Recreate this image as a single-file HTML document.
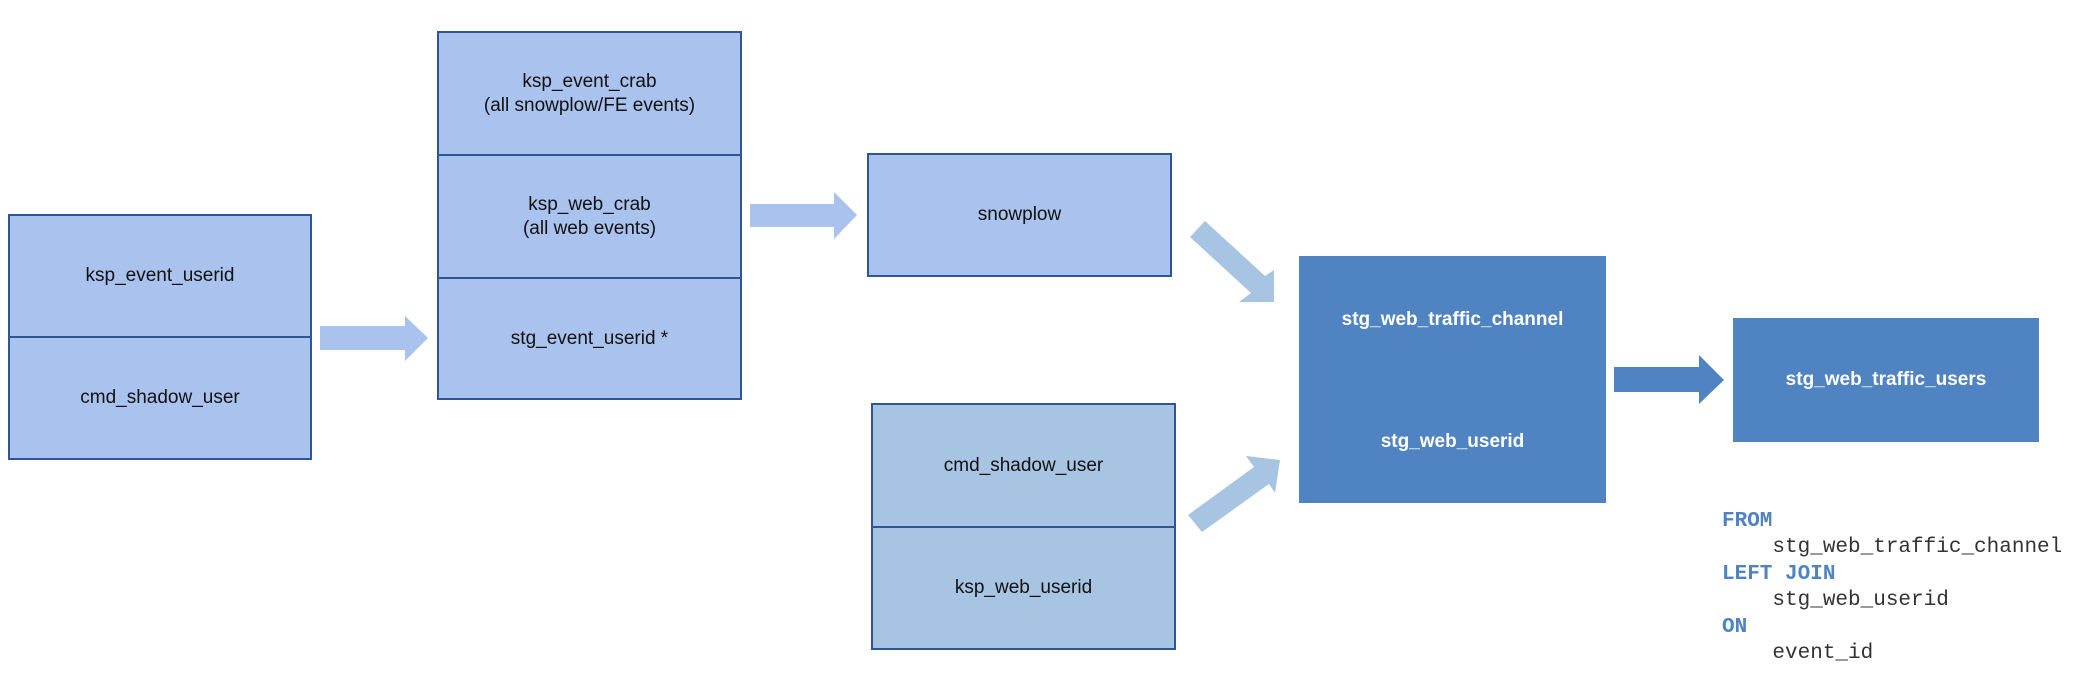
<!DOCTYPE html>
<html><head><meta charset="utf-8"><style>
body{margin:0;width:2076px;height:688px;background:#fff;position:relative;overflow:hidden;font-family:"Liberation Sans",sans-serif;}
.b{position:absolute;box-sizing:border-box;display:flex;align-items:center;justify-content:center;text-align:center;font-size:19px;color:#111;line-height:24px;}
.l{background:#aac2ee;border:2px solid #2f5597;}
.m{background:#a7c4e3;border:2px solid #2f5597;}
.d{background:#4f83c1;color:#fff;font-weight:bold;}
.code{position:absolute;left:1722px;top:509px;font-family:"Liberation Mono",monospace;font-size:21px;line-height:26.4px;color:#333;white-space:pre;}
.k{color:#4f83c1;font-weight:bold;}
</style></head><body>
<div class="b l" style="left:8px;top:214px;width:304px;height:124px;">ksp_event_userid</div>
<div class="b l" style="left:8px;top:336px;width:304px;height:124px;">cmd_shadow_user</div>

<div class="b l" style="left:437px;top:31px;width:305px;height:125px;">ksp_event_crab<br>(all snowplow/FE events)</div>
<div class="b l" style="left:437px;top:154px;width:305px;height:125px;">ksp_web_crab<br>(all web events)</div>
<div class="b l" style="left:437px;top:277px;width:305px;height:123px;">stg_event_userid *</div>

<div class="b l" style="left:867px;top:153px;width:305px;height:124px;">snowplow</div>

<div class="b m" style="left:871px;top:403px;width:305px;height:125px;">cmd_shadow_user</div>
<div class="b m" style="left:871px;top:526px;width:305px;height:124px;">ksp_web_userid</div>

<div class="b d" style="left:1299px;top:256px;width:307px;height:247px;"></div>
<div class="b d" style="left:1299px;top:308px;width:307px;height:24px;background:none;">stg_web_traffic_channel</div>
<div class="b d" style="left:1299px;top:430px;width:307px;height:24px;background:none;">stg_web_userid</div>
<div class="b d" style="left:1733px;top:318px;width:306px;height:124px;">stg_web_traffic_users</div>

<svg style="position:absolute;left:0;top:0" width="2076" height="688">
<polygon fill="#aac2ee" points="320,326 405,326 405,316 428,338 405,361 405,350 320,350"/>
<polygon fill="#aac2ee" points="750,204 834,204 834,192 857,215 834,239 834,227 750,227"/>
<polygon fill="#4f83c1" points="1614,367 1699,367 1699,355 1724,380 1699,404 1699,392 1614,392"/>
<polygon fill="#a7c4e3" points="1205,221 1265,276 1274,270 1274,302 1239,302 1251,293 1190,237"/>
<polygon fill="#a7c4e3" points="1188,515 1254,467 1246,456 1280,460 1275,493 1269,484 1202,532"/>
</svg>

<div class="code"><span class="k">FROM</span>
    stg_web_traffic_channel
<span class="k">LEFT JOIN</span>
    stg_web_userid
<span class="k">ON</span>
    event_id</div>
</body></html>
